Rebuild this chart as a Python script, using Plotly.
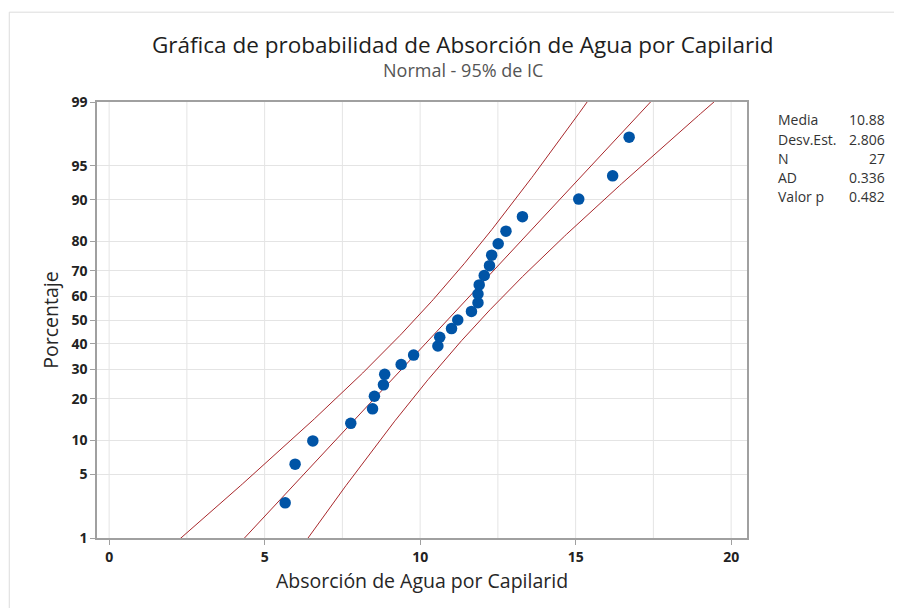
import numpy as np
import plotly.graph_objects as go
from statistics import NormalDist

nd = NormalDist()

# observed values (sorted) and their plotted percentages
absorcion = [5.66, 5.98, 6.55, 7.77, 8.47, 8.53, 8.82, 8.86, 9.39, 9.79,
             10.57, 10.63, 11.01, 11.21, 11.65, 11.86, 11.86, 11.90, 12.06, 12.23,
             12.30, 12.51, 12.76, 13.29, 15.10, 16.19, 16.72]
porcentaje = [2.55, 6.20, 9.85, 13.50, 17.15, 20.80, 24.45, 28.10, 31.75, 35.40,
              39.05, 42.70, 46.35, 50.00, 53.65, 57.30, 60.95, 64.60, 68.25, 71.90,
              75.55, 79.20, 82.85, 86.50, 90.15, 93.80, 97.45]

media = 10.88
desv = 2.806
n = 27
ad = 0.336
valor_p = 0.482

y_ticks = [1, 5, 10, 20, 30, 40, 50, 60, 70, 80, 90, 95, 99]
x_ticks = [0, 5, 10, 15, 20]

z = lambda p: nd.inv_cdf(p / 100.0)

# fitted line and 95% bands for percentiles
zz = np.linspace(-2.6, 2.6, 300)
fit = media + desv * zz
half = 1.96 * desv * np.sqrt(1.0 / n + zz ** 2 / (2 * n))

fig = go.Figure()
line_col = "#a8272b"
fig.add_trace(go.Scatter(x=fit - half, y=zz, mode="lines", line=dict(color=line_col, width=1)))
fig.add_trace(go.Scatter(x=fit, y=zz, mode="lines", line=dict(color=line_col, width=1)))
fig.add_trace(go.Scatter(x=fit + half, y=zz, mode="lines", line=dict(color=line_col, width=1)))
fig.add_trace(go.Scatter(x=absorcion, y=[z(p) for p in porcentaje], mode="markers",
                         marker=dict(color="#0054a6", size=11.5), cliponaxis=False))

# page body adds 8px offset, so margins are shifted by 8
L, T, W, H = 89, 94, 650, 436
font = "Open Sans"
grid = "#e4e4e4"
fig.update_layout(
    width=902, height=608,
    margin=dict(l=L, r=902 - L - W, t=T, b=608 - T - H),
    paper_bgcolor="white", plot_bgcolor="white",
    showlegend=False,
    font=dict(family=font, color="#333333", size=13),
    xaxis=dict(range=[-0.39, 20.51], tickvals=x_ticks,
               showgrid=False, zeroline=False,
               showline=True, linecolor="#a0a0a0", linewidth=1.5, mirror=True,
               ticks="outside", ticklen=5, tickcolor="#a0a0a0",
               tickfont=dict(size=14, color="#222222", weight="bold"),
               title=dict(text="Absorción de Agua por Capilarid",
                          font=dict(size=19.5, color="#262626"), standoff=10)),
    yaxis=dict(range=[z(1), z(99)], tickvals=[z(p) for p in y_ticks],
               ticktext=[str(p) for p in y_ticks],
               showgrid=True, gridcolor=grid, zeroline=False,
               showline=True, linecolor="#a0a0a0", linewidth=1.5, mirror=True,
               ticks="outside", ticklen=5, tickcolor="#a0a0a0",
               tickfont=dict(size=14, color="#222222", weight="bold"),
               title=dict(text="Porcentaje",
                          font=dict(size=19.5, color="#262626"), standoff=8)),
)

# vertical grid every 2.5
for gx in np.arange(0, 20.01, 2.5):
    fig.add_shape(type="line", xref="x", yref="paper", x0=gx, x1=gx, y0=0, y1=1,
                  line=dict(color=grid, width=1), layer="below")

# outer frame of the graph window
fig.add_shape(type="line", xref="paper", yref="paper", x0=-0.135, x1=1.3, y0=1.206, y1=1.206,
              line=dict(color="#dcdcdc", width=1))
fig.add_shape(type="line", xref="paper", yref="paper", x0=-0.135, x1=-0.135, y0=1.206, y1=-0.2,
              line=dict(color="#dcdcdc", width=1))

fig.add_annotation(text="Gráfica de probabilidad de Absorción de Agua por Capilarid",
                   xref="paper", yref="paper", x=0.563, y=(538 - 44) / 436, showarrow=False,
                   font=dict(size=22.5, color="#1e1e1e"), xanchor="center", yanchor="middle")
fig.add_annotation(text="Normal - 95% de IC",
                   xref="paper", yref="paper", x=0.563, y=(538 - 70) / 436, showarrow=False,
                   font=dict(size=18, color="#555555"), xanchor="center", yanchor="middle")

etiquetas = ["Media", "Desv.Est.", "N", "AD", "Valor p"]
valores = [f"{media:.2f}", f"{desv:.3f}", f"{n}", f"{ad:.3f}", f"{valor_p:.3f}"]
for k, (lab, val) in enumerate(zip(etiquetas, valores)):
    yy = (538 - (120 + k * 19)) / 436
    fig.add_annotation(text=lab, xref="paper", yref="paper", x=(776 - 97) / 650, y=yy,
                       showarrow=False, xanchor="left", yanchor="middle",
                       font=dict(size=14, color="#333333"))
    fig.add_annotation(text=val, xref="paper", yref="paper", x=(887 - 97) / 650, y=yy,
                       showarrow=False, xanchor="right", yanchor="middle",
                       font=dict(size=14, color="#333333"))

fig.write_html("out.html")
